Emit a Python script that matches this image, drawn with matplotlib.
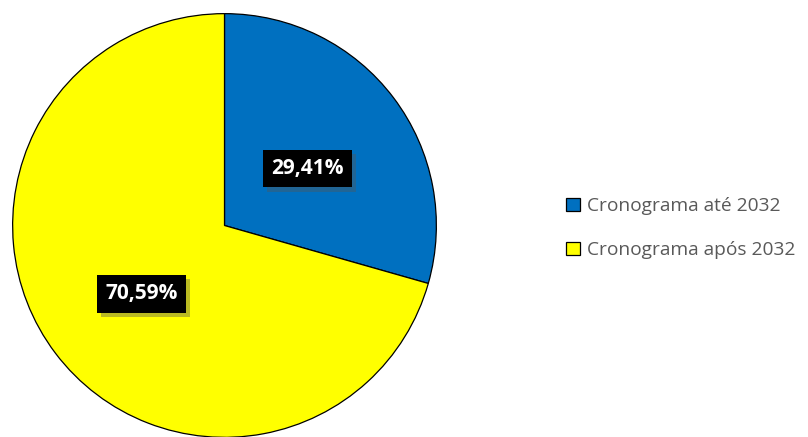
import matplotlib.pyplot as plt
import matplotlib.patheffects as pe

labels = ['Cronograma até 2032', 'Cronograma após 2032']
values = [29.41, 70.59]
colors = ['#0070C0', '#FFFF00']

fig = plt.figure(figsize=(8.08, 4.37), dpi=100)
fig.patch.set_facecolor('white')
ax = fig.add_axes([12 / 808, -1 / 437, 425 / 808, 425 / 437])

wedges, texts, autotexts = ax.pie(
    values, colors=colors, startangle=90, counterclock=False,
    autopct=lambda p: f'{p:.2f}%'.replace('.', ','), pctdistance=0.49,
    wedgeprops=dict(edgecolor='black', linewidth=0.9),
    textprops=dict(color='white', fontsize=15, fontweight='bold', family='Open Sans'))
ax.set_xlim(-1.003, 1.003)
ax.set_ylim(-1.003, 1.003)
ax.set_aspect('equal')

for t in autotexts:
    x, y = t.get_position()
    t.set_position((x, y - 0.027))
    t.set_bbox(dict(boxstyle='square,pad=0.4', facecolor='black', edgecolor='none'))
    t.get_bbox_patch().set_path_effects([
        pe.SimplePatchShadow(offset=(3, -3), shadow_rgbFace='#555555', alpha=0.4),
        pe.Normal()])

leg = fig.legend(wedges, labels, loc='center left', bbox_to_anchor=(549 / 808, 209 / 437),
                 frameon=False, handlelength=0.7, handleheight=0.7,
                 handletextpad=0.4, labelspacing=1.35, labelcolor='#595959',
                 prop=dict(family='Open Sans', size=13.8))

fig.savefig('out.png', dpi=100)
